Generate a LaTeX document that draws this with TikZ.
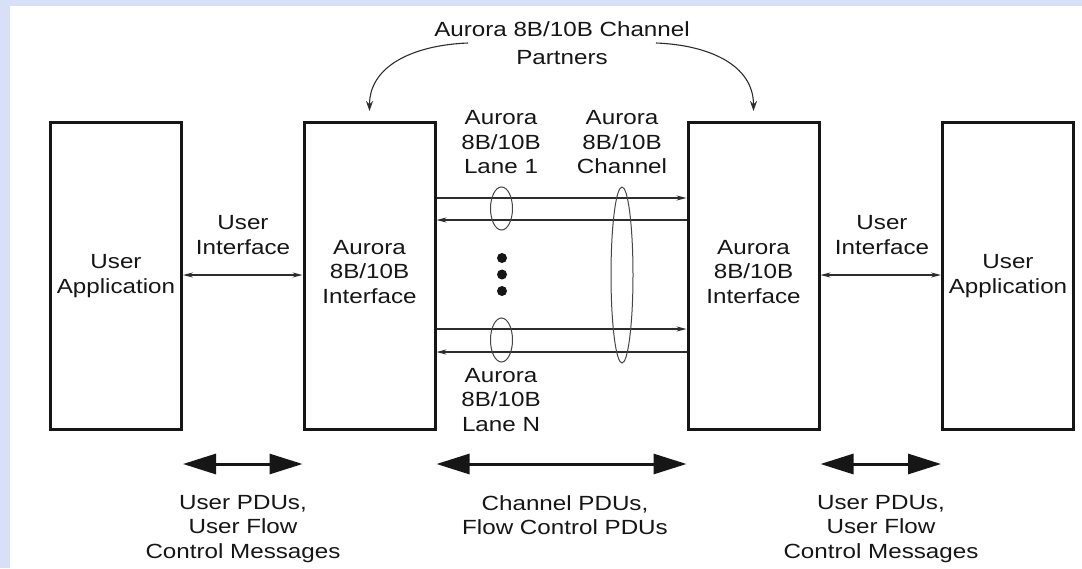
\documentclass[tikz,border=0pt]{standalone}
\usepackage{fontspec}
\setmainfont[FakeStretch=1.18]{Liberation Sans}
\usetikzlibrary{shapes.geometric,arrows.meta}
\definecolor{bgblue}{RGB}{216,224,248}
\definecolor{ink}{RGB}{22,22,22}
\begin{document}
\begin{tikzpicture}[x=1pt,y=-1pt,
  lbl/.style={align=center,font=\fontsize{20.5}{24.5}\selectfont,text=ink,inner sep=0pt},
  box/.style={draw=ink,line width=3pt,minimum width=131pt,minimum height=307pt,inner sep=0pt,lbl},
  thinarr/.style={draw=ink!90,line width=1.1pt,{Stealth[length=10pt,width=5pt]}-{Stealth[length=10pt,width=5pt]}},
  lanearr/.style={draw=ink!90,line width=1.1pt,-{Stealth[length=10pt,width=5pt]}},
  curvarr/.style={draw=ink!90,line width=1.1pt,-{Stealth[length=10pt,width=7pt]}},
  bigarr/.style={draw=ink,line width=3pt,{Triangle[length=33pt,width=20pt]}-{Triangle[length=33pt,width=20pt]}},
  ring/.style={draw=ink!80,line width=1pt,ellipse,inner sep=0pt},
  dot/.style={circle,fill=ink,inner sep=0pt,minimum size=10pt}
]
\fill[bgblue] (0,0) rectangle (1082,568);
\fill[white] (10,6) rectangle (1082,568);
\useasboundingbox (0,0) rectangle (1082,568);

% boxes
\node[box] (b1) at (116,276) {User\\Application};
\node[box,text depth=9pt] (b2) at (369.5,276) {Aurora\\8B/10B\\Interface};
\node[box,text depth=9pt] (b3) at (753.5,276) {Aurora\\8B/10B\\Interface};
\node[box] (b4) at (1008,276) {User\\Application};

% top label and curved arrows
\node[lbl] (top) at (562,43) {Aurora 8B/10B Channel\\[3.5pt]Partners};
\coordinate (cl) at (468,43);
\coordinate (cr) at (656,43);
\coordinate (tl) at (369.5,111);
\coordinate (tr) at (753.5,111);
\draw[curvarr] (cl) .. controls (415,45) and (369.5,65) .. (tl);
\draw[curvarr] (cr) .. controls (709,45) and (753.5,65) .. (tr);

% user interface arrows
\node[lbl] (ui1) at (243,235) {User\\Interface};
\node[lbl] (ui2) at (882,235) {User\\Interface};
\draw[thinarr] (b1.east |- 0,275) -- (b2.west |- 0,275);
\draw[thinarr] (b3.east |- 0,275) -- (b4.west |- 0,275);

% lanes
\draw[lanearr] (b2.east |- 0,198) -- (b3.west |- 0,198);
\draw[lanearr] (b3.west |- 0,220) -- (b2.east |- 0,220);
\draw[lanearr] (b2.east |- 0,329) -- (b3.west |- 0,329);
\draw[lanearr] (b3.west |- 0,352) -- (b2.east |- 0,352);

\node[ring,minimum width=22pt,minimum height=43pt] (e1) at (501.5,208.5) {};
\node[ring,minimum width=22pt,minimum height=44pt] (e2) at (501.5,340) {};
\node[ring,minimum width=22pt,minimum height=176pt] (ec) at (622,275) {};

\node[dot] (d1) at (502,258) {};
\node[dot] (d2) at (502,274.5) {};
\node[dot] (d3) at (502,291) {};

\node[lbl] (lane1) at (501,142.5) {Aurora\\8B/10B\\Lane 1};
\node[lbl] (chan) at (622,142.5) {Aurora\\8B/10B\\Channel};
\node[lbl] (laneN) at (501,400) {Aurora\\8B/10B\\Lane N};

% bottom arrows
\draw[bigarr] (b1.east |- 0,464) -- (b2.west |- 0,464);
\draw[bigarr] (b2.east |- 0,464) -- (b3.west |- 0,464);
\draw[bigarr] (b3.east |- 0,464) -- (b4.west |- 0,464);

\node[lbl] (bl) at (243,529) {User PDUs,\\User Flow\\Control Messages};
\node[lbl] (bm) at (565,515) {Channel PDUs,\\Flow Control PDUs};
\node[lbl] (br) at (881,529) {User PDUs,\\User Flow\\Control Messages};
\end{tikzpicture}
\end{document}
